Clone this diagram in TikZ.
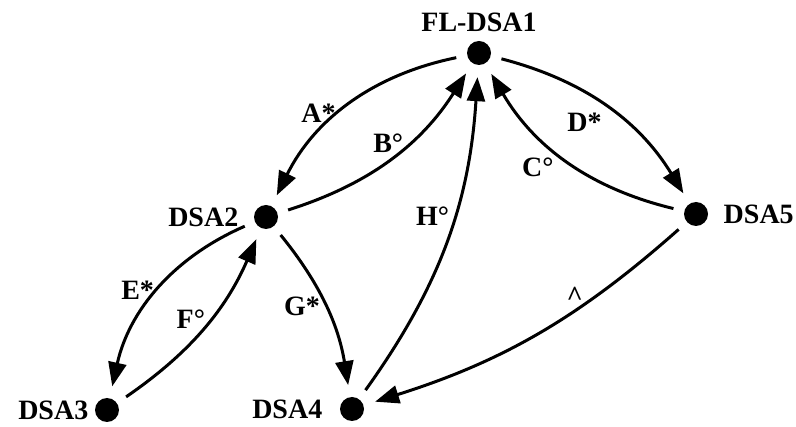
\documentclass[tikz,border=0pt]{standalone}
\usepackage{fontspec}
\setmainfont{Liberation Serif}
\usetikzlibrary{arrows.meta}
\begin{document}
\begin{tikzpicture}[x=1pt, y=-1pt,
font=\fontsize{28}{32}\selectfont\bfseries,
dot/.style={circle, fill, inner sep=0pt, minimum size=24pt},
link/.style={line width=3pt, -{Triangle[length=24pt,width=18pt]},
  shorten <=11pt, shorten >=12pt}]
\useasboundingbox (0,0) rectangle (796,427);
\node[dot, label={[label distance=5pt]above:FL-DSA1}] (fl) at (479,53) {};
\node[dot, label={[label distance=12pt]left:DSA2}] (dsa2) at (266,217) {};
\node[dot, label={[label distance=12pt]right:DSA5}] (dsa5) at (696,214) {};
\node[dot, label={[label distance=3pt]left:DSA3}] (dsa3) at (107,410) {};
\node[dot, label={[label distance=14pt]left:DSA4}] (dsa4) at (352,409) {};
\draw[link] (fl) to[bend right=26] node[pos=.55, left] {A*} (dsa2);
\draw[link] (dsa2) to[bend right=20] node[pos=.6, left] {B°} (fl);
\draw[link] (dsa4) to[bend right=16] node[pos=.58, left] {H°} (fl);
\draw[link] (dsa5) to[bend left=23] node[pos=.55, below left] {C°} (fl);
\draw[link] (fl) to[bend left=22] node[pos=.5, below left] {D*} (dsa5);
\draw[link] (dsa2) to[bend right=27] node[pos=.5, left] {E*} (dsa3);
\draw[link] (dsa3) to[bend right=16] node[pos=.55, left] {F°} (dsa2);
\draw[link] (dsa2) to[bend left=15] node[pos=.5, left] {G*} (dsa4);
\draw[link] (dsa5) to[bend left=12] node[pos=.37, above] {\textasciicircum} (dsa4);
\end{tikzpicture}
\end{document}
